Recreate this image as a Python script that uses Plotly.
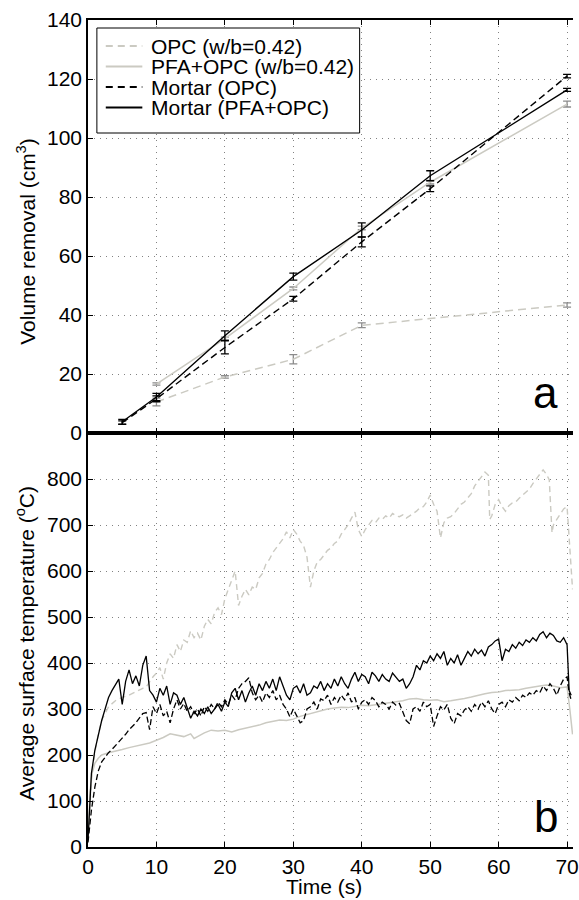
import plotly.graph_objects as go

# ---------------- panel a : volume removal ----------------
VOL_T_MORTAR = [5, 10, 20, 30, 40, 50, 70]
VOL_MORTAR_OPC = [3.5, 11.6, 29.0, 45.5, 64.8, 82.8, 121.0]
VOL_MORTAR_OPC_ERR = [0.6, 1.0, 2.2, 0.8, 1.7, 1.0, 0.6]
VOL_MORTAR_PFA = [3.8, 12.2, 33.0, 53.0, 68.8, 87.2, 116.3]
VOL_MORTAR_PFA_ERR = [0.8, 1.2, 1.6, 1.2, 2.4, 1.7, 0.5]

VOL_T_PFA = [10, 20, 30, 40, 50, 70]
VOL_PFA = [16.6, 32.0, 49.0, 69.5, 85.0, 111.5]
VOL_PFA_ERR = [0.4, 0.5, 0.5, 0.6, 0.6, 1.0]

VOL_T_OPC = [10, 20, 30, 40, 70]
VOL_OPC = [10.5, 19.0, 25.0, 36.5, 43.4]
VOL_OPC_ERR = [1.3, 0.4, 1.6, 0.8, 0.7]

# ---------------- panel b : surface temperature ----------------
T_MORTAR = [0, 0.5, 1, 1.5, 2, 2.5, 3, 3.5, 4, 4.5,
            5, 5.5, 6, 6.5, 7, 7.5, 8, 8.5, 9, 9.5,
            10, 10.5, 11, 11.5, 12, 12.5, 13, 13.5, 14, 14.5,
            15, 15.5, 16, 16.5, 17, 17.5, 18, 18.5, 19, 19.5,
            20, 20.5, 21, 21.5, 22, 22.5, 23, 23.5, 24, 24.5,
            25, 25.5, 26, 26.5, 27, 27.5, 28, 28.5, 29, 29.5,
            30, 30.5, 31, 31.5, 32, 32.5, 33, 33.5, 34, 34.5,
            35, 35.5, 36, 36.5, 37, 37.5, 38, 38.5, 39, 39.5,
            40, 40.5, 41, 41.5, 42, 42.5, 43, 43.5, 44, 44.5,
            45, 45.5, 46, 46.5, 47, 47.5, 48, 48.5, 49, 49.5,
            50, 50.5, 51, 51.5, 52, 52.5, 53, 53.5, 54, 54.5,
            55, 55.5, 56, 56.5, 57, 57.5, 58, 58.5, 59, 59.5,
            60, 60.5, 61, 61.5, 62, 62.5, 63, 63.5, 64, 64.5,
            65, 65.5, 66, 66.5, 67, 67.5, 68, 68.5, 69, 69.5,
            70, 70.3, 70.6]

TEMP_MORTAR_PFA = [15, 160, 210, 245, 275, 300, 325, 340, 352, 365,
                   310, 360, 385, 355, 372, 350, 395, 415, 340, 330,
                   315, 345, 330, 350, 310, 335, 330, 310, 325, 300,
                   280, 295, 285, 300, 290, 305, 290, 300, 310, 295,
                   315, 305, 335, 345, 320, 340, 315, 335, 350, 330,
                   355, 340, 360, 345, 365, 340, 370, 350, 330, 320,
                   345, 350, 335, 355, 330, 335, 350, 345, 360, 340,
                   355, 345, 365, 350, 370, 355, 345, 365, 380, 360,
                   375, 370, 355, 380, 372, 360, 375, 365, 360, 378,
                   370, 360, 365, 345, 355, 370, 395, 385, 405, 400,
                   415, 405, 420, 410, 425, 395, 410, 400, 418, 395,
                   410, 425, 415, 430, 420, 428, 415, 435, 440, 448,
                   452, 405, 430, 425, 440, 432, 445, 438, 450, 445,
                   455, 448, 462, 468, 455, 465, 460, 448, 445, 455,
                   440, 340, 330]

TEMP_MORTAR_OPC = [10, 80, 130, 165, 185, 195, 205, 212, 220, 228,
                   238, 245, 255, 262, 270, 280, 290, 292, 255, 305,
                   290, 310, 285, 295, 270, 300, 320, 300, 312, 295,
                   305, 290, 300, 285, 305, 295, 310, 300, 315, 305,
                   320, 310, 330, 320, 345, 355, 360, 368, 335, 320,
                   330, 315, 335, 325, 340, 320, 330, 310, 300, 283,
                   300, 285, 270, 275, 300, 305, 315, 300, 322, 318,
                   330, 310, 325, 315, 330, 320, 335, 315, 325, 300,
                   315, 320, 310, 325, 318, 305, 315, 310, 300, 315,
                   308, 312, 295, 275, 268, 300, 305, 295, 315, 305,
                   310, 262, 285, 305, 298, 310, 280, 268, 290, 285,
                   298, 305, 295, 310, 300, 315, 305, 318, 300, 290,
                   310, 315, 305, 320, 315, 325, 318, 330, 325, 335,
                   330, 340, 335, 350, 340, 355, 345, 330, 350, 365,
                   370, 335, 320]

T_PFA_B = [0, 0.3, 0.6, 1, 1.5, 2, 3, 4, 5, 6, 7, 8, 9, 10, 11, 12, 13, 14, 15, 15.5,
           16, 17, 18, 19, 20, 21, 22, 23, 24, 25, 26, 27, 28, 29, 30, 31, 32, 33, 34, 35,
           36, 37, 38, 39, 40, 41, 42, 43, 44, 45, 46, 47, 48, 49, 50, 51, 52, 53, 54, 55,
           56, 57, 58, 59, 60, 61, 62, 63, 64, 65, 66, 67, 68, 69, 70, 70.4, 70.8]
TEMP_PFA = [15, 120, 160, 182, 193, 200, 205, 208, 212, 216, 219, 223, 226, 232, 238, 246, 243, 240, 246, 236,
            240, 248, 254, 252, 254, 250, 255, 258, 262, 265, 270, 273, 276, 275, 278, 284, 288, 292, 296, 300,
            302, 304, 303, 306, 308, 307, 309, 312, 314, 316, 318, 322, 323, 320, 319, 320, 316, 318, 320, 323,
            326, 330, 333, 336, 337, 340, 341, 342, 345, 348, 350, 352, 350, 346, 348, 300, 245]

T_OPC_B = [0, 0.5, 1, 1.5, 2, 2.5, 3, 4, 5, 6, 7, 8, 8.5, 9, 9.5,
           10, 10.5, 11, 11.5, 12, 12.5, 13, 13.5, 14, 14.5,
           15, 15.5, 16, 16.5, 17, 17.5, 18, 18.5, 19, 19.5,
           20, 20.5, 21, 21.5, 22, 22.5, 23, 23.5, 24, 24.5,
           25, 25.5, 26, 26.5, 27, 27.5, 28, 28.5, 29, 29.5,
           30, 30.5, 31, 31.5, 32, 32.5, 33, 33.5, 34, 34.5,
           35, 35.5, 36, 36.5, 37, 37.5, 38, 38.5, 39, 39.5,
           40, 40.5, 41, 41.5, 42, 42.5, 43, 43.5, 44, 44.5,
           45, 45.5, 46, 46.5, 47, 47.5, 48, 48.5, 49, 49.5,
           50, 50.5, 51, 51.5, 52, 52.5, 53, 53.5, 54, 54.5,
           55, 55.5, 56, 56.5, 57, 57.5, 58, 58.5, 58.7,
           59, 59.5, 60, 60.5, 61, 61.5, 62, 62.5, 63, 63.5,
           64, 64.5, 65, 65.5, 66, 66.5, 67, 67.4, 67.8,
           68, 68.5, 69, 69.5, 70, 70.4, 70.8]
TEMP_OPC = [15, 150, 205, 245, 275, 290, 305, 318, 325, 330, 338, 345, 348, 360, 370,
            378, 390, 365, 400, 420, 410, 440, 425, 450, 445,
            470, 455, 465, 450, 480, 495, 485, 510, 520, 505,
            540, 560, 580, 600, 525, 545, 560, 548, 565, 560,
            585, 595, 615, 625, 640, 650, 660, 670, 685, 672,
            690, 680, 665, 655, 630, 565, 600, 620, 625, 635,
            645, 650, 660, 665, 680, 690, 700, 715, 728, 690,
            675, 690, 700, 710, 705, 715, 712, 720, 715, 725,
            720, 718, 722, 715, 720, 725, 730, 738, 740, 750,
            765, 745, 730, 672, 705, 715, 718, 725, 735, 745,
            750, 758, 768, 785, 795, 805, 815, 808, 712,
            720, 745, 755, 740, 730, 742, 748, 750, 758, 765,
            770, 778, 790, 800, 812, 820, 810, 798, 683,
            700, 712, 725, 735, 740, 640, 560]

assert len(T_MORTAR) == len(TEMP_MORTAR_PFA) == len(TEMP_MORTAR_OPC)
assert len(T_PFA_B) == len(TEMP_PFA)
assert len(T_OPC_B) == len(TEMP_OPC)

LEGEND_NAMES = ["OPC (w/b=0.42)", "PFA+OPC (w/b=0.42)", "Mortar (OPC)", "Mortar (PFA+OPC)"]
X_TICKS = [0, 10, 20, 30, 40, 50, 60, 70]
YA_TICKS = [0, 20, 40, 60, 80, 100, 120, 140]
YB_TICKS = [0, 100, 200, 300, 400, 500, 600, 700, 800]

# ---------------- styling ----------------
W, H = 579, 900
ML, MR, MT, MB = 88, 0, 20, 53
PW, PH = W - ML - MR, H - MT - MB
SPLIT = (H - MB - 433) / PH
XMAX = 70 * PW / (573 - ML)

LIGHT = "rgb(203,202,194)"
ERR_GRAY = "rgb(140,140,140)"
BLACK = "black"
FONT = "Liberation Sans, Arial, sans-serif"
FS = 21

fig = go.Figure()

def err(vals, color):
    return dict(type="data", array=vals, visible=True, color=color, thickness=1.3, width=4)

# panel a
fig.add_trace(go.Scatter(x=VOL_T_OPC, y=VOL_OPC, mode="lines", xaxis="x", yaxis="y",
                         line=dict(color=LIGHT, width=1.5, dash="8px,5px"),
                         error_y=err(VOL_OPC_ERR, ERR_GRAY), showlegend=False))
fig.add_trace(go.Scatter(x=VOL_T_PFA, y=VOL_PFA, mode="lines", xaxis="x", yaxis="y",
                         line=dict(color=LIGHT, width=1.5),
                         error_y=err(VOL_PFA_ERR, ERR_GRAY), showlegend=False))
fig.add_trace(go.Scatter(x=VOL_T_MORTAR, y=VOL_MORTAR_OPC, mode="lines", xaxis="x", yaxis="y",
                         line=dict(color=BLACK, width=1.4, dash="7px,4px"),
                         error_y=err(VOL_MORTAR_OPC_ERR, BLACK), showlegend=False))
fig.add_trace(go.Scatter(x=VOL_T_MORTAR, y=VOL_MORTAR_PFA, mode="lines", xaxis="x", yaxis="y",
                         line=dict(color=BLACK, width=1.4),
                         error_y=err(VOL_MORTAR_PFA_ERR, BLACK), showlegend=False))

# panel b
fig.add_trace(go.Scatter(x=T_OPC_B, y=TEMP_OPC, mode="lines", xaxis="x2", yaxis="y2",
                         line=dict(color=LIGHT, width=1.4, dash="6px,4px"), showlegend=False))
fig.add_trace(go.Scatter(x=T_PFA_B, y=TEMP_PFA, mode="lines", xaxis="x2", yaxis="y2",
                         line=dict(color=LIGHT, width=1.5), showlegend=False))
fig.add_trace(go.Scatter(x=T_MORTAR, y=TEMP_MORTAR_OPC, mode="lines", xaxis="x2", yaxis="y2",
                         line=dict(color=BLACK, width=1.3, dash="6px,3px"), showlegend=False))
fig.add_trace(go.Scatter(x=T_MORTAR, y=TEMP_MORTAR_PFA, mode="lines", xaxis="x2", yaxis="y2",
                         line=dict(color=BLACK, width=1.3), showlegend=False))

grid = dict(showgrid=True, gridcolor="rgb(130,130,130)", gridwidth=1, griddash="1px,5px",
            zeroline=False, showline=True, linecolor="black", linewidth=1.5,
            ticks="inside", ticklen=5, tickcolor="black", tickwidth=1,
            ticklabeloverflow="allow",
            tickfont=dict(family=FONT, size=FS, color="black"))

fig.update_layout(
    width=W, height=H,
    margin=dict(l=ML, r=MR, t=MT, b=MB),
    paper_bgcolor="white", plot_bgcolor="white",
    font=dict(family=FONT, size=FS, color="black"),
    showlegend=False,
    xaxis=dict(**grid, domain=[0, 1], anchor="y", range=[0, XMAX], tickvals=X_TICKS,
               showticklabels=False, mirror="ticks", matches="x2"),
    yaxis=dict(**grid, domain=[SPLIT, 1], anchor="x", range=[0, 140], tickvals=YA_TICKS),
    xaxis2=dict(**grid, domain=[0, 1], anchor="y2", range=[0, XMAX], tickvals=X_TICKS,
                mirror="ticks"),
    yaxis2=dict(**grid, domain=[0, SPLIT], anchor="x2", range=[0, 900], tickvals=YB_TICKS),
)

def px2paper(px, py):
    return (px - ML) / PW, (H - MB - py) / PH

shapes = []
annotations = []

# manual legend box
x0, y0 = px2paper(97, 133)
x1, y1 = px2paper(363, 28)
shapes.append(dict(type="rect", xref="paper", yref="paper", x0=x0, y0=y0, x1=x1, y1=y1,
                   line=dict(color="black", width=1), fillcolor="white", layer="above"))
leg_styles = [dict(color=LIGHT, width=2, dash="7px,5px"),
              dict(color=LIGHT, width=2),
              dict(color=BLACK, width=2, dash="7px,5px"),
              dict(color=BLACK, width=2)]
leg_y = [46, 66.5, 87, 107.5]
for name, sty, py in zip(LEGEND_NAMES, leg_styles, leg_y):
    lx0, ly = px2paper(106, py)
    lx1, _ = px2paper(143, py)
    shapes.append(dict(type="line", xref="paper", yref="paper", x0=lx0, x1=lx1, y0=ly, y1=ly,
                       line=sty, layer="above"))
    tx, _ = px2paper(150, py)
    annotations.append(dict(text=name, xref="paper", yref="paper", x=tx, y=ly,
                            xanchor="left", yanchor="middle", showarrow=False,
                            font=dict(family=FONT, size=FS, color="black")))

# panel letters
ax_, ay_ = px2paper(566, 392)
annotations.append(dict(text="a", xref="paper", yref="paper", x=ax_, y=ay_, xanchor="right",
                        yanchor="middle", showarrow=False, font=dict(family=FONT, size=44, color="black")))
bx_, by_ = px2paper(566, 816)
annotations.append(dict(text="b", xref="paper", yref="paper", x=bx_, y=by_, xanchor="right",
                        yanchor="middle", showarrow=False, font=dict(family=FONT, size=44, color="black")))

# axis titles
tx, ty = px2paper(25, 241)
annotations.append(dict(text="Volume removal (cm<sup>3</sup>)", xref="paper", yref="paper",
                        x=tx, y=ty, textangle=-90, xanchor="center", yanchor="middle",
                        showarrow=False, font=dict(family=FONT, size=FS, color="black")))
tx, ty = px2paper(24, 643)
annotations.append(dict(text="Average surface temperature (<sup>o</sup>C)", xref="paper", yref="paper",
                        x=tx, y=ty, textangle=-90, xanchor="center", yanchor="middle",
                        showarrow=False, font=dict(family=FONT, size=FS, color="black")))
tx, ty = px2paper(327, 886)
annotations.append(dict(text="Time (s)", xref="paper", yref="paper", x=tx, y=ty,
                        xanchor="center", yanchor="middle", showarrow=False,
                        font=dict(family=FONT, size=FS, color="black")))

fig.update_layout(shapes=shapes, annotations=annotations)

fig.write_html("out.html")
